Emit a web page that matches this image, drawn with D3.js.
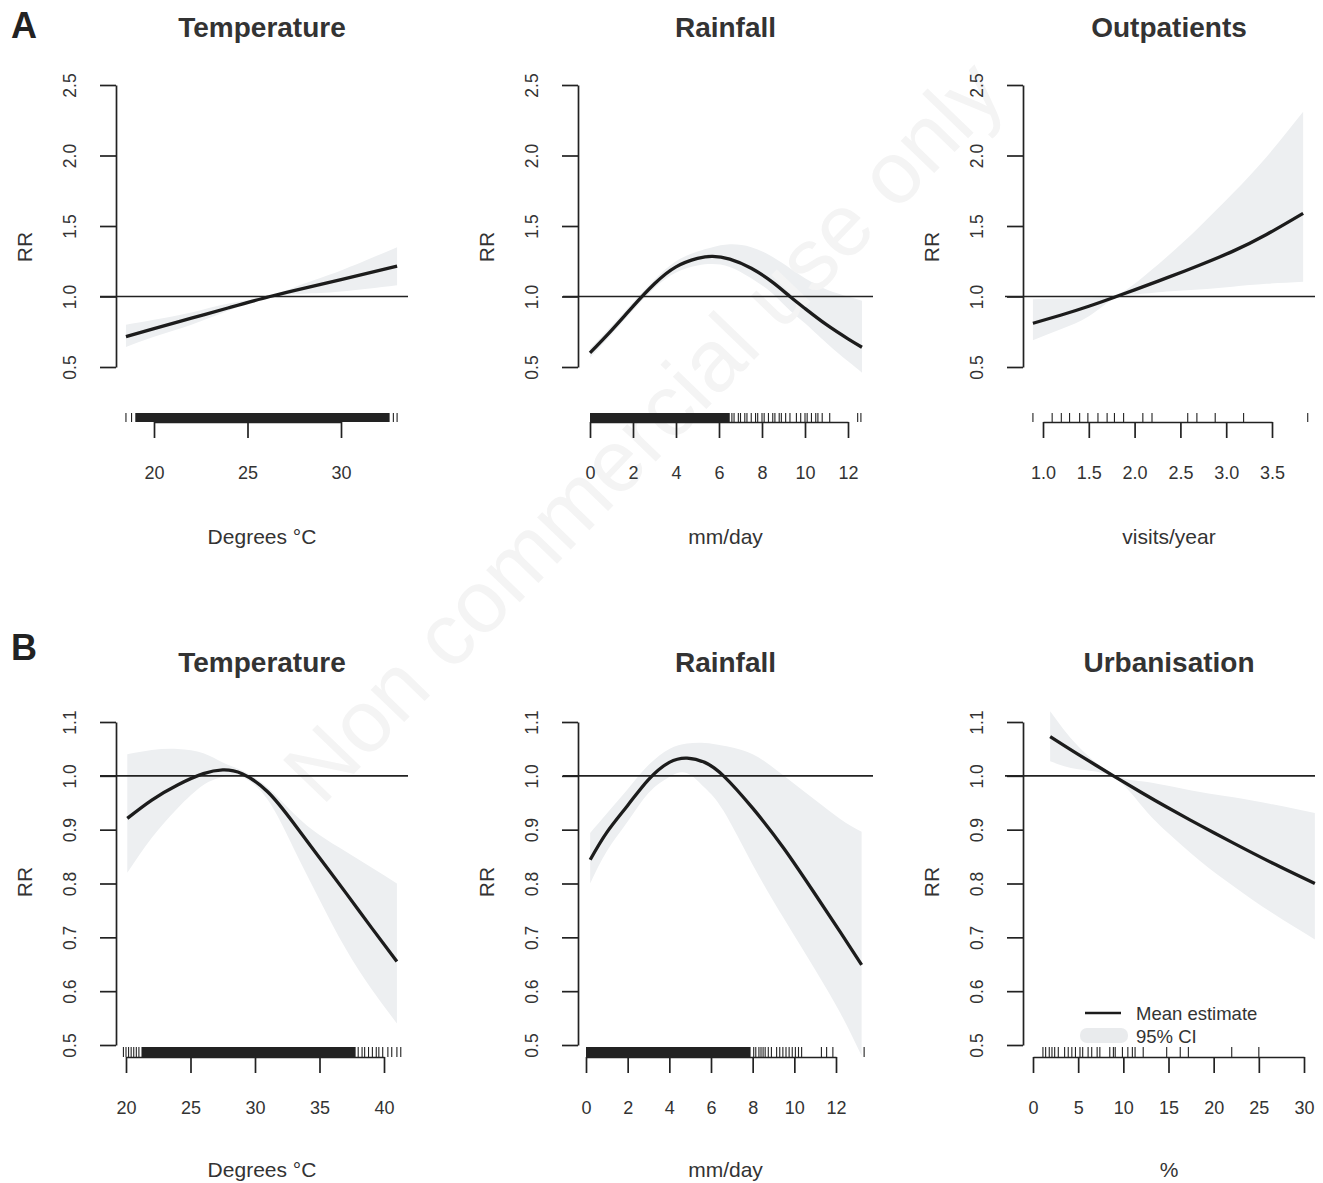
<!DOCTYPE html>
<html>
<head>
<meta charset="utf-8">
<script src="https://cdn.jsdelivr.net/npm/d3@7"></script>
<style>
  body { margin: 0; background: #fff; }
  svg { font-family: "Liberation Sans", Arial, Helvetica, sans-serif; }
</style>
</head>
<body>
<svg width="1323" height="1183"></svg>
<script>
// ---- data ----
// A: Temperature
var tempA_x    = [18.5, 20, 22, 24, 26.2, 28, 30, 33];
var tempA_mean = [0.715, 0.772, 0.846, 0.92, 1.0, 1.058, 1.12, 1.215];
var tempA_lo   = [0.642, 0.715, 0.80, 0.90, 0.995, 1.02, 1.035, 1.08];
var tempA_hi   = [0.80, 0.835, 0.887, 0.95, 1.005, 1.09, 1.185, 1.35];
var tempA_rugSpan = [19.0, 32.6];
var tempA_rug  = [18.5, 18.8, 32.8, 33.0];
var tempA_ticks = [20, 25, 30];

// A: Rainfall
var rainA_x    = [0, 1, 2, 3, 4, 5, 5.7, 6.5, 7.5, 8.5, 9.3, 10, 11, 12, 12.65];
var rainA_mean = [0.60, 0.76, 0.93, 1.09, 1.21, 1.27, 1.285, 1.265, 1.2, 1.1, 1.0, 0.915, 0.80, 0.70, 0.64];
var rainA_lo   = [0.565, 0.73, 0.90, 1.06, 1.17, 1.22, 1.23, 1.21, 1.13, 1.02, 0.90, 0.81, 0.67, 0.54, 0.46];
var rainA_hi   = [0.63, 0.79, 0.96, 1.12, 1.25, 1.32, 1.35, 1.37, 1.35, 1.28, 1.20, 1.13, 1.05, 1.0, 0.97];
var rainA_rugSpan = [0, 6.5];
var rainA_rug  = [6.6, 6.7, 6.9, 7.0, 7.2, 7.3, 7.5, 7.7, 7.8, 8.0, 8.1, 8.3, 8.5, 8.6, 8.8, 8.9,
                  9.1, 9.3, 9.6, 9.8, 10.0, 10.1, 10.3, 10.5, 10.6, 10.8, 11.15, 12.45, 12.6];
var rainA_ticks = [0, 2, 4, 6, 8, 10, 12];

// A: Outpatients
var outA_x    = [0.89, 1.2, 1.5, 1.78, 2.0, 2.35, 2.7, 3.07, 3.44, 3.84];
var outA_mean = [0.81, 0.869, 0.931, 0.995, 1.047, 1.132, 1.22, 1.32, 1.44, 1.59];
var outA_lo   = [0.69, 0.77, 0.86, 0.99, 1.015, 1.035, 1.05, 1.07, 1.09, 1.105];
var outA_hi   = [0.98, 0.985, 0.99, 1.01, 1.09, 1.28, 1.49, 1.73, 1.99, 2.31];
var outA_rug  = [0.89, 1.10, 1.20, 1.29, 1.40, 1.49, 1.60, 1.70, 1.78, 1.88, 2.09, 2.19,
                 2.58, 2.68, 2.88, 3.19, 3.89];
var outA_ticks = [1.0, 1.5, 2.0, 2.5, 3.0, 3.5];

// B: Temperature
var tempB_x    = [20.1, 22, 24, 26, 27.5, 29, 31, 33, 35, 37, 39, 41];
var tempB_mean = [0.921, 0.955, 0.983, 1.004, 1.011, 1.004, 0.97, 0.912, 0.848, 0.784, 0.719, 0.655];
var tempB_lo   = [0.82, 0.885, 0.94, 0.983, 0.998, 0.998, 0.955, 0.865, 0.77, 0.68, 0.605, 0.54];
var tempB_hi   = [1.04, 1.048, 1.05, 1.042, 1.025, 1.01, 0.978, 0.93, 0.89, 0.86, 0.83, 0.80];
var tempB_rugSpan = [21.2, 37.8];
var tempB_rug  = [19.8, 20.0, 20.2, 20.4, 20.6, 20.8, 21.0, 38.0, 38.3, 38.5, 38.8, 39.1,
                  39.4, 39.6, 39.9, 40.3, 40.6, 41.0, 41.3];
var tempB_ticks = [20, 25, 30, 35, 40];

// B: Rainfall
var rainB_x    = [0.2, 1, 2, 3, 4, 4.85, 5.7, 6.6, 8, 9.5, 11, 12.2, 13.23];
var rainB_mean = [0.844, 0.895, 0.945, 0.993, 1.025, 1.033, 1.025, 1.0, 0.94, 0.865, 0.78, 0.71, 0.649];
var rainB_lo   = [0.80, 0.86, 0.915, 0.968, 0.998, 1.005, 0.978, 0.935, 0.835, 0.735, 0.64, 0.56, 0.48];
var rainB_hi   = [0.894, 0.93, 0.975, 1.02, 1.05, 1.06, 1.061, 1.056, 1.04, 1.0, 0.955, 0.92, 0.896];
var rainB_rugSpan = [0, 7.9];
var rainB_rug  = [8.05, 8.15, 8.3, 8.4, 8.5, 8.6, 8.75, 8.9, 9.15, 9.3, 9.45, 9.6, 9.75, 9.9,
                  10.05, 10.2, 10.35, 11.3, 11.55, 11.85, 13.35];
var rainB_ticks = [0, 2, 4, 6, 8, 10, 12];

// B: Urbanisation
var urbB_x    = [1.9, 5, 8.9, 12, 14.8, 18.5, 22.2, 26.5, 31.2];
var urbB_mean = [1.073, 1.04, 1.0, 0.969, 0.942, 0.908, 0.875, 0.838, 0.80];
var urbB_lo   = [1.027, 1.012, 0.997, 0.945, 0.896, 0.842, 0.795, 0.745, 0.696];
var urbB_hi   = [1.12, 1.055, 1.003, 0.99, 0.982, 0.97, 0.96, 0.947, 0.931];
var urbB_rug  = [1.1, 1.4, 1.8, 2.1, 2.4, 2.8, 3.5, 3.9, 4.3, 4.7, 5.2, 5.5, 6.1, 6.5, 7.1, 7.4,
                 8.5, 8.9, 9.1, 9.9, 10.5, 11.0, 11.3, 12.2, 14.8, 16.3, 17.2, 22.0, 25.0];
var urbB_ticks = [0, 5, 10, 15, 20, 25, 30];

var yTicksA = [0.5, 1.0, 1.5, 2.0, 2.5];
var yTicksB = [0.5, 0.6, 0.7, 0.8, 0.9, 1.0, 1.1];

// ---- layout ----
var svg = d3.select("svg");
var ink = "#222";

var cols = [
  {left: 100, axis: 116, right: 408},
  {left: 563, axis: 578, right: 873},
  {left: 1005, axis: 1023, right: 1315}
];
var rows = [
  {yTicks: yTicksA, yRange: [367, 85], rugTop: 413, axisY: 422, labY: 479, xTitY: 544, titY: 37, rrY: 247, letter: "A", letY: 38},
  {yTicks: yTicksB, yRange: [1045, 722], rugTop: 1047, axisY: 1057, labY: 1114, xTitY: 1177, titY: 672, rrY: 882, letter: "B", letY: 660}
];

var panels = [
  {row: 0, col: 0, title: "Temperature", xlab: "Degrees \u00b0C", x: tempA_x, mean: tempA_mean, lo: tempA_lo, hi: tempA_hi,
   rug: tempA_rug, span: tempA_rugSpan, ticks: tempA_ticks, px: [154, 341], fmt: d3.format("d")},
  {row: 0, col: 1, title: "Rainfall", xlab: "mm/day", x: rainA_x, mean: rainA_mean, lo: rainA_lo, hi: rainA_hi,
   rug: rainA_rug, span: rainA_rugSpan, ticks: rainA_ticks, px: [590, 848], fmt: d3.format("d")},
  {row: 0, col: 2, title: "Outpatients", xlab: "visits/year", x: outA_x, mean: outA_mean, lo: outA_lo, hi: outA_hi,
   rug: outA_rug, span: null, ticks: outA_ticks, px: [1043, 1272], fmt: d3.format(".1f")},
  {row: 1, col: 0, title: "Temperature", xlab: "Degrees \u00b0C", x: tempB_x, mean: tempB_mean, lo: tempB_lo, hi: tempB_hi,
   rug: tempB_rug, span: tempB_rugSpan, ticks: tempB_ticks, px: [126, 384], fmt: d3.format("d")},
  {row: 1, col: 1, title: "Rainfall", xlab: "mm/day", x: rainB_x, mean: rainB_mean, lo: rainB_lo, hi: rainB_hi,
   rug: rainB_rug, span: rainB_rugSpan, ticks: rainB_ticks, px: [586, 836], fmt: d3.format("d")},
  {row: 1, col: 2, title: "Urbanisation", xlab: "%", x: urbB_x, mean: urbB_mean, lo: urbB_lo, hi: urbB_hi,
   rug: urbB_rug, span: null, ticks: urbB_ticks, px: [1033, 1304], fmt: d3.format("d")}
];

// layers: bands, then the watermark, then axes/rugs and lines on top
var bandLayer = svg.append("g");
var wmLayer = svg.append("g");
var markLayer = svg.append("g");
var lineLayer = svg.append("g");

wmLayer.append("text")
  .attr("transform", "translate(665,452) rotate(-46)")
  .attr("text-anchor", "middle")
  .attr("font-size", 88)
  .attr("fill", "#f4f4f4")
  .text("Non commercial use only");

panels.forEach(function(p) {
  var r = rows[p.row], c = cols[p.col];
  var ticks = p.ticks;
  var x = d3.scaleLinear().domain([ticks[0], ticks[ticks.length - 1]]).range(p.px);
  var y = d3.scaleLinear().domain([r.yTicks[0], r.yTicks[r.yTicks.length - 1]]).range(r.yRange);
  var pts = p.x.map(function(v, i) { return {x: v, m: p.mean[i], lo: p.lo[i], hi: p.hi[i]}; });

  // confidence band
  var area = d3.area().curve(d3.curveNatural)
    .x(function(d) { return x(d.x); })
    .y0(function(d) { return y(d.lo); })
    .y1(function(d) { return y(d.hi); });
  bandLayer.append("path").datum(pts).attr("d", area).attr("fill", "#edeff1");

  // y axis
  var yAxis = d3.axisLeft(y).tickValues(r.yTicks).tickFormat(d3.format(".1f")).tickSize(16).tickSizeOuter(0);
  var gy = markLayer.append("g").attr("transform", "translate(" + c.axis + ",0)").call(yAxis);
  gy.select(".domain").attr("stroke", ink).attr("stroke-width", 1.7);
  gy.selectAll(".tick line").attr("stroke", ink).attr("stroke-width", 1.7);
  gy.selectAll(".tick text")
    .attr("transform", "rotate(-90)")
    .attr("x", 0).attr("y", -40).attr("dy", 0)
    .attr("text-anchor", "middle")
    .attr("font-size", 17.5).attr("fill", "#333");

  // x axis
  var xAxis = d3.axisBottom(x).tickValues(ticks).tickFormat(p.fmt).tickSize(16).tickSizeOuter(0);
  var gx = markLayer.append("g").attr("transform", "translate(0," + r.axisY + ")").call(xAxis);
  gx.select(".domain").attr("stroke", ink).attr("stroke-width", 1.7);
  gx.selectAll(".tick line").attr("stroke", ink).attr("stroke-width", 1.7);
  gx.selectAll(".tick text")
    .attr("y", r.labY - r.axisY).attr("dy", 0)
    .attr("font-size", 18).attr("fill", "#333");

  // rug
  if (p.span) {
    markLayer.append("rect")
      .attr("x", x(p.span[0])).attr("y", r.rugTop)
      .attr("width", x(p.span[1]) - x(p.span[0])).attr("height", r.axisY - r.rugTop)
      .attr("fill", ink);
  }
  markLayer.selectAll(null).data(p.rug).enter().append("line")
    .attr("x1", function(d) { return x(d); }).attr("x2", function(d) { return x(d); })
    .attr("y1", r.rugTop).attr("y2", r.axisY)
    .attr("stroke", ink).attr("stroke-width", 1.1);

  // reference line at RR = 1
  lineLayer.append("line")
    .attr("x1", c.left).attr("x2", c.right)
    .attr("y1", y(1)).attr("y2", y(1))
    .attr("stroke", ink).attr("stroke-width", 1.7);

  // mean estimate
  var line = d3.line().curve(d3.curveNatural)
    .x(function(d) { return x(d.x); })
    .y(function(d) { return y(d.m); });
  lineLayer.append("path").datum(pts).attr("d", line)
    .attr("fill", "none").attr("stroke", "#1c1c1c").attr("stroke-width", 3.3);

  // texts
  var mid = (c.axis + c.right) / 2;
  svg.append("text").attr("x", mid).attr("y", r.titY).attr("text-anchor", "middle")
    .attr("font-size", 28).attr("font-weight", "bold").attr("fill", "#333").text(p.title);
  svg.append("text").attr("x", mid).attr("y", r.xTitY).attr("text-anchor", "middle")
    .attr("font-size", 21).attr("fill", "#333").text(p.xlab);
  svg.append("text")
    .attr("transform", "translate(" + (c.axis - 84) + "," + r.rrY + ") rotate(-90)")
    .attr("text-anchor", "middle").attr("font-size", 21).attr("fill", "#333").text("RR");
});

// panel letters
rows.forEach(function(r) {
  svg.append("text").attr("x", 11).attr("y", r.letY)
    .attr("font-size", 36).attr("font-weight", "bold").attr("fill", "#222").text(r.letter);
});

// legend (bottom-right panel)
var leg = svg.append("g");
leg.append("line").attr("x1", 1085).attr("x2", 1121).attr("y1", 1013).attr("y2", 1013)
  .attr("stroke", "#1c1c1c").attr("stroke-width", 2.5);
leg.append("rect").attr("x", 1080).attr("y", 1028).attr("width", 48).attr("height", 15)
  .attr("rx", 7).attr("fill", "#e9ebed");
leg.append("text").attr("x", 1136).attr("y", 1020).attr("font-size", 18.5).attr("fill", "#333").text("Mean estimate");
leg.append("text").attr("x", 1136).attr("y", 1043).attr("font-size", 18.5).attr("fill", "#333").text("95% CI");
</script>
</body>
</html>
